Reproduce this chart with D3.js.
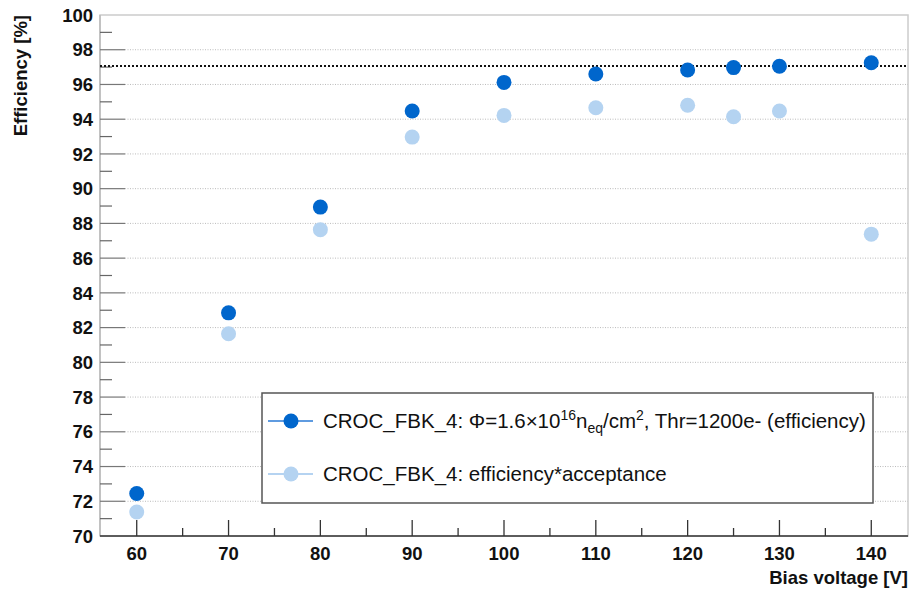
<!DOCTYPE html>
<html>
<head>
<meta charset="utf-8">
<script src="https://cdn.jsdelivr.net/npm/d3@7"></script>
<style>
  body { margin: 0; background: #fff; }
  svg { font-family: "Liberation Sans", Arial, sans-serif; }
  .tick-label { font-weight: bold; font-size: 18.5px; fill: #111; }
  .axis-title { font-weight: bold; font-size: 18.5px; fill: #111; }
  .leg-text { font-size: 20.5px; fill: #111; }
</style>
</head>
<body>
<div id="chart"></div>
<script>
// data
const voltages = [60, 70, 80, 90, 100, 110, 120, 125, 130, 140];
const efficiency = [72.45, 82.85, 88.94, 94.47, 96.12, 96.6, 96.83, 96.97, 97.05, 97.25];
const effAcceptance = [71.38, 81.65, 87.64, 92.97, 94.22, 94.66, 94.8, 94.14, 94.47, 87.38];
const refLevel = 97.07;
const xTicks = [60, 70, 80, 90, 100, 110, 120, 130, 140];
const yTicks = d3.range(70, 101, 2);

const legendLabels = ["efficiency", "efficiency*acceptance"];

let margin = { top: 15, left: 100, right: 2, bottom: 55 },
  W = 910, H = 591,
  width = W - margin.left - margin.right,
  height = H - margin.top - margin.bottom;

let svg = d3.select("#chart").append("svg")
  .attr("width", W).attr("height", H);

let g = svg.append("g")
  .attr("transform", "translate(" + margin.left + "," + margin.top + ")");

let xScale = d3.scaleLinear().domain([56, 144]).range([0, width]);
let yScale = d3.scaleLinear().domain([70, 100]).range([height, 0]);

// frame
g.append("rect")
  .attr("width", width).attr("height", height)
  .attr("fill", "none").attr("stroke", "#ccc").attr("stroke-width", 1.5);

// horizontal dotted grid
g.selectAll(".grid").data(yTicks.slice(1, -1))
  .enter().append("line")
  .attr("x1", 25).attr("x2", width)
  .attr("y1", d => yScale(d)).attr("y2", d => yScale(d))
  .attr("stroke", "#bbb").attr("stroke-width", 1)
  .attr("stroke-dasharray", "1,1.5");

// left axis line
g.append("line").attr("x1", 0).attr("x2", 0).attr("y1", 0).attr("y2", height)
  .attr("stroke", "#bbb").attr("stroke-width", 1.5);

// y ticks: major every 2, minor on odd numbers
g.selectAll(".ymaj").data(yTicks.slice(1, -1))
  .enter().append("line")
  .attr("x1", 0).attr("x2", 25)
  .attr("y1", d => yScale(d)).attr("y2", d => yScale(d))
  .attr("stroke", "#777").attr("stroke-width", 1.2);
g.selectAll(".ymin").data(d3.range(71, 100, 2))
  .enter().append("line")
  .attr("x1", 0).attr("x2", 12)
  .attr("y1", d => yScale(d)).attr("y2", d => yScale(d))
  .attr("stroke", "#666").attr("stroke-width", 1.2);

g.selectAll(".ylab").data(yTicks)
  .enter().append("text")
  .attr("class", "tick-label")
  .attr("x", -7).attr("y", d => yScale(d))
  .attr("dy", "0.36em")
  .attr("text-anchor", "end")
  .text(d => d);

// bottom axis line
g.append("line").attr("x1", 0).attr("x2", width).attr("y1", height).attr("y2", height)
  .attr("stroke", "#333").attr("stroke-width", 1.5);

// x ticks point upward
g.selectAll(".xmaj").data(xTicks)
  .enter().append("line")
  .attr("x1", d => xScale(d)).attr("x2", d => xScale(d))
  .attr("y1", height).attr("y2", height - 16)
  .attr("stroke", "#333").attr("stroke-width", 1.3);
g.selectAll(".xmin").data(d3.range(65, 140, 10))
  .enter().append("line")
  .attr("x1", d => xScale(d)).attr("x2", d => xScale(d))
  .attr("y1", height).attr("y2", height - 8)
  .attr("stroke", "#333").attr("stroke-width", 1.3);

g.selectAll(".xlab").data(xTicks)
  .enter().append("text")
  .attr("class", "tick-label")
  .attr("x", d => xScale(d)).attr("y", height + 24)
  .attr("text-anchor", "middle")
  .text(d => d);

// axis titles
g.append("text").attr("class", "axis-title")
  .attr("x", width).attr("y", height + 48)
  .attr("text-anchor", "end")
  .text("Bias voltage [V]");
svg.append("text").attr("class", "axis-title")
  .attr("transform", "translate(27," + margin.top + ") rotate(-90)")
  .attr("text-anchor", "end")
  .text("Efficiency [%]");

// reference level
g.append("line")
  .attr("x1", 0).attr("x2", width)
  .attr("y1", yScale(refLevel)).attr("y2", yScale(refLevel))
  .attr("stroke", "#111").attr("stroke-width", 2)
  .attr("stroke-dasharray", "2,2");

// points
g.selectAll(".acc").data(voltages)
  .enter().append("circle")
  .attr("cx", d => xScale(d))
  .attr("cy", (d, i) => yScale(effAcceptance[i]))
  .attr("r", 7.5)
  .attr("fill", "#b4d3f1");
g.selectAll(".eff").data(voltages)
  .enter().append("circle")
  .attr("cx", d => xScale(d))
  .attr("cy", (d, i) => yScale(efficiency[i]))
  .attr("r", 7.5)
  .attr("fill", "#0066cc");

// legend
let leg = svg.append("g").attr("transform", "translate(262,393)");
leg.append("rect")
  .attr("width", 611).attr("height", 110)
  .attr("fill", "#fff").attr("stroke", "#555").attr("stroke-width", 1.5);

let rows = [
  { y: 28, color: "#0066cc", lineColor: "#2a7ad6" },
  { y: 81, color: "#b4d3f1", lineColor: "#9cc4ec" }
];
rows.forEach(r => {
  leg.append("line").attr("x1", 6).attr("x2", 51)
    .attr("y1", r.y).attr("y2", r.y)
    .attr("stroke", r.lineColor).attr("stroke-width", 1.5);
  leg.append("circle").attr("cx", 29).attr("cy", r.y).attr("r", 7.5)
    .attr("fill", r.color);
});

let t1 = leg.append("text").attr("class", "leg-text")
  .attr("x", 61).attr("y", rows[0].y).attr("dy", "0.36em");
t1.append("tspan").text("CROC_FBK_4: \u03A6=1.6\u00D710");
t1.append("tspan").attr("dy", "-8").attr("font-size", "14px").text("16");
t1.append("tspan").attr("dy", "8").text("n");
t1.append("tspan").attr("dy", "5").attr("font-size", "14px").text("eq");
t1.append("tspan").attr("dy", "-5").text("/cm");
t1.append("tspan").attr("dy", "-8").attr("font-size", "14px").text("2");
t1.append("tspan").attr("dy", "8").text(", Thr=1200e- (" + legendLabels[0] + ")");

leg.append("text").attr("class", "leg-text")
  .attr("x", 61).attr("y", rows[1].y).attr("dy", "0.36em")
  .text("CROC_FBK_4: " + legendLabels[1]);
</script>
</body>
</html>
